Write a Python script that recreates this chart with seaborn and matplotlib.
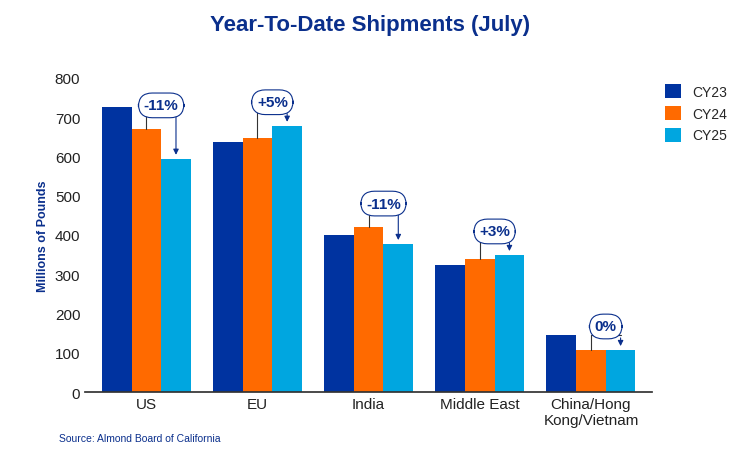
import matplotlib
matplotlib.use("Agg")
import matplotlib.pyplot as plt
import seaborn as sns
import pandas as pd

regions = ["US", "EU", "India", "Middle East", "China/Hong\nKong/Vietnam"]
years = ["CY23", "CY24", "CY25"]
cy23 = [726, 637, 400, 324, 145]
cy24 = [670, 647, 420, 339, 107]
cy25 = [594, 678, 377, 349, 107]
changes = ["-11%", "+5%", "-11%", "+3%", "0%"]
colors = ["#0033A0", "#FF6A00", "#00A6E0"]
navy = "#0A2F8C"

df = pd.DataFrame({"Region": regions * 3, "Year": sum([[y] * 5 for y in years], []),
                   "Value": cy23 + cy24 + cy25})

sns.set_theme(style="white")
plt.rcParams['font.family'] = ['Liberation Sans', 'DejaVu Sans']
fig = plt.figure(figsize=(7.41, 4.56), dpi=100)
ax = fig.add_axes([0.115, 0.138, 0.765, 0.689])
sns.barplot(data=df, x="Region", y="Value", hue="Year", palette=colors, width=0.8,
            saturation=1, ax=ax, edgecolor="none")
ax.set_ylim(0, 800)
ax.set_yticks(range(0, 801, 100))
ax.set_xlim(-0.55, 4.55)
ax.set_xlabel("")
ax.set_ylabel("Millions of Pounds", fontsize=9, fontweight="bold", color=navy)
ax.tick_params(axis="both", labelsize=11, colors="#222222", length=0)
for s in ["top", "right", "left"]:
    ax.spines[s].set_visible(False)
ax.spines["bottom"].set_color("#333333")
ax.legend(loc="upper left", bbox_to_anchor=(1.0, 1.02), frameon=False, fontsize=10,
          handlelength=1.2, handleheight=1.2, labelspacing=0.5)

w = 0.8 / 3
for i in range(5):
    x1, x2 = i, i + w
    top = max(cy24[i], cy25[i])
    lvl = top + 38
    ax.plot([x1, x1, x2], [cy24[i], lvl, lvl], color="#333333", lw=0.8)
    ax.annotate("", xy=(x2, cy25[i] + 3), xytext=(x2, lvl),
                arrowprops=dict(arrowstyle="-|>", color=navy, lw=0.8, mutation_scale=8))
    ax.text((x1 + x2) / 2, lvl + 22, changes[i], ha="center", va="center", fontsize=11,
            fontweight="bold", color=navy,
            bbox=dict(boxstyle="round,pad=0.35,rounding_size=0.9", fc="white", ec=navy, lw=0.8))

fig.text(0.5, 0.945, "Year-To-Date Shipments (July)", ha="center", va="center",
         fontsize=16, fontweight="bold", color=navy)
fig.text(0.08, 0.03, "Source: Almond Board of California", fontsize=7.5, color=navy)
fig.savefig("out.png", dpi=100)
